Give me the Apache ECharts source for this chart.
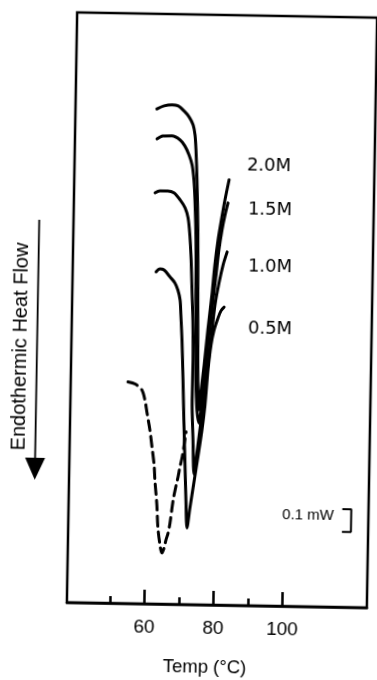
<!DOCTYPE html>
<html>
<head>
<meta charset="utf-8">
<script src="https://cdn.jsdelivr.net/npm/echarts@6/dist/echarts.min.js"></script>
<style>
  html, body { margin: 0; padding: 0; background: #fff; overflow: hidden; }
  /* the whole scanned figure sits about one degree off square */
  #chart { width: 377px; height: 680px; transform: rotate(1deg); transform-origin: 222px 310px; }
</style>
</head>
<body>
<div id="chart"></div>
<script>
// DSC thermograms: temperature (°C) vs heat flow (mW, endotherm downward)
const tempMin = 37.5, tempMax = 124.5;
const flowMin = 0, flowMax = 2.6;
const majorTicks = [60, 80, 100];
const minorTicks = [50, 70, 90];

// dashed scan (no salt)
const scan0M = [[54.1,0.976],[56.2,0.967],[58.2,0.941],[59.1,0.898],[59.8,0.840],[60.7,0.766],[61.4,0.691],[62.1,0.612],[62.4,0.546],[63.1,0.436],[63.5,0.339],[64.2,0.260],[64.8,0.225],[65.4,0.247],[65.9,0.282],[66.5,0.313],[67.0,0.357],[67.8,0.459],[68.6,0.525],[69.1,0.561],[69.6,0.605],[70.2,0.649],[70.7,0.702],[71.2,0.760]];

const scan05M = [[61.7,1.463],[62.8,1.476],[64.0,1.472],[65.75,1.442],[67.2,1.416],[68.1,1.385],[68.8,1.341],[69.1,1.275],[69.55,1.165],[70.05,0.989],[70.5,0.812],[71.0,0.636],[71.5,0.460],[71.95,0.337],[72.7,0.425],[73.75,0.540],[74.8,0.655],[75.8,0.770],[76.55,0.880],[77.25,1.035],[78.0,1.145],[78.8,1.211],[79.9,1.265],[80.7,1.296],[81.6,1.313]];

const scan10M = [[61.0,1.811],[62.4,1.820],[64.7,1.820],[66.5,1.812],[68.3,1.782],[69.8,1.747],[70.7,1.703],[71.3,1.628],[71.8,1.518],[72.2,1.386],[72.6,1.254],[72.85,1.077],[72.8,0.901],[73.25,0.725],[73.7,0.575],[74.2,0.637],[74.7,0.703],[75.2,0.770],[76.0,0.880],[76.7,0.990],[77.5,1.101],[78.2,1.211],[78.95,1.322],[80.0,1.419],[81.1,1.499],[82.2,1.556]];

const scan15M = [[61.3,2.049],[63.0,2.062],[65.6,2.063],[68.0,2.046],[69.4,2.020],[70.65,1.981],[71.6,1.937],[72.2,1.871],[72.6,1.783],[73.1,1.607],[73.35,1.386],[73.6,1.166],[73.8,0.990],[74.25,0.857],[74.9,0.800],[75.7,0.902],[76.4,1.034],[77.35,1.189],[78.35,1.343],[79.1,1.454],[79.8,1.564],[80.6,1.653],[81.4,1.719],[82.2,1.772]];

const scan20M = [[61.1,2.181],[63.2,2.195],[65.5,2.200],[67.2,2.196],[69.0,2.174],[70.5,2.148],[71.7,2.113],[72.3,2.069],[72.65,2.003],[73.1,1.871],[73.6,1.651],[73.9,1.386],[74.2,1.122],[74.45,0.946],[74.85,0.858],[75.3,0.937],[76.1,1.056],[77.0,1.211],[78.0,1.365],[78.7,1.498],[79.5,1.608],[80.5,1.710],[81.3,1.785],[82.4,1.874]];

// concentration labels: name, temperature and flow where each text starts
const concNames = ['2.0M', '1.5M', '1.0M', '0.5M'];
const concLabelTemp = [87.5, 88.0, 88.3, 88.6];
const concLabelFlow = [1.937, 1.743, 1.492, 1.218];

// 0.1 mW scale bracket
const scaleSpan = 0.1;
const scaleBase = 0.332;
const scaleTemp = [116.9, 119.5];
const scaleText = '0.1 mW';

const FONT = '"Liberation Sans", Arial, Helvetica, sans-serif';
const LABEL_FONT = '"DejaVu Sans", Verdana, sans-serif';

const chart = echarts.init(document.getElementById('chart'));

const scanStyle = (data, name, dashed) => ({
  type: 'line', name, data,
  symbol: 'none', smooth: 0.3, silent: true,
  lineStyle: { color: '#000', width: 3, type: dashed ? [10, 6] : 'solid', cap: 'round', join: 'round' }
});

// text-only series: invisible anchor, fully opaque label
const textSeries = (name, data, position, fontSize, fontFamily) => ({
  type: 'scatter', name, data, symbolSize: 0, silent: true,
  itemStyle: { opacity: 1 },
  label: { show: true, position, distance: 0, formatter: p => p.value[2], color: '#000', opacity: 1, fontSize, fontFamily }
});

chart.setOption({
  animation: false,
  backgroundColor: '#fff',
  grid: { left: 72, top: 15, width: 300, height: 590, show: true, borderColor: '#000', borderWidth: 2.5, backgroundColor: 'transparent' },
  xAxis: [
    {
      type: 'value', min: tempMin, max: tempMax, position: 'bottom',
      axisLine: { show: true, lineStyle: { color: '#000', width: 2.5 } },
      axisTick: { show: true, inside: true, length: 14, lineStyle: { color: '#000', width: 2.5 }, customValues: majorTicks },
      axisLabel: { show: true, color: '#000', fontSize: 19, fontFamily: FONT, margin: 14, customValues: majorTicks },
      splitLine: { show: false }
    },
    {
      type: 'value', min: tempMin, max: tempMax, position: 'bottom', offset: 0,
      axisLine: { show: false },
      axisTick: { show: true, inside: true, length: 7, lineStyle: { color: '#000', width: 2.5 }, customValues: minorTicks },
      axisLabel: { show: false },
      splitLine: { show: false }
    }
  ],
  yAxis: { type: 'value', min: flowMin, max: flowMax, show: false },
  series: [
    scanStyle(scan0M, '0M', true),
    scanStyle(scan05M, '0.5M'),
    scanStyle(scan10M, '1.0M'),
    scanStyle(scan15M, '1.5M'),
    scanStyle(scan20M, '2.0M'),
    {
      type: 'line', name: 'scale', symbol: 'none', silent: true,
      data: [
        [scaleTemp[0], scaleBase + scaleSpan], [scaleTemp[1], scaleBase + scaleSpan],
        [scaleTemp[1], scaleBase], [scaleTemp[0], scaleBase]
      ],
      lineStyle: { color: '#000', width: 2 }
    },
    textSeries('scaleText', [[scaleTemp[0] - 2.4, scaleBase + scaleSpan * 0.7, scaleText]], 'left', 15, FONT),
    textSeries('concLabels', concNames.map((n, i) => [concLabelTemp[i], concLabelFlow[i], n]), 'right', 18, LABEL_FONT)
  ],
  graphic: [
    {
      type: 'text', x: 21.6, y: 350, rotation: Math.PI / 2,
      style: { text: 'Endothermic Heat Flow', font: '20px ' + FONT, fill: '#000', textAlign: 'center', textVerticalAlign: 'middle' }
    },
    { type: 'line', shape: { x1: 37.7, y1: 223, x2: 37.7, y2: 462 }, style: { stroke: '#000', lineWidth: 1.8 } },
    { type: 'polygon', shape: { points: [[27.7, 461], [47.7, 461], [37.7, 483]] }, style: { fill: '#000' } },
    {
      type: 'text', x: 210.7, y: 668.3,
      style: { text: 'Temp (°C)', font: '18.5px ' + FONT, fill: '#000', textAlign: 'center', textVerticalAlign: 'middle' }
    }
  ]
});
</script>
</body>
</html>
